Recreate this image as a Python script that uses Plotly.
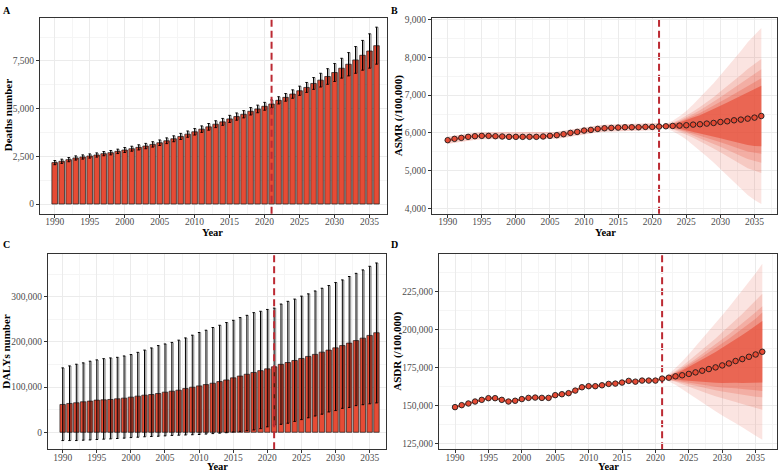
import plotly.graph_objects as go

W, H = 781, 471

years = list(range(1990, 2037))
fyears = list(range(2021, 2037))

# Panel A: deaths number (mean and symmetric uncertainty half-width)
deaths = [2170, 2240, 2326, 2413, 2465, 2517, 2569, 2639, 2691, 2760,
          2830, 2899, 2969, 3038, 3125, 3212, 3316, 3420, 3541, 3663,
          3785, 3924, 4045, 4184, 4306, 4462, 4583, 4705, 4861, 4983,
          5122, 5243, 5434, 5590, 5764, 5937, 6111, 6319, 6493, 6684,
          6892, 7118, 7326, 7552, 7795, 8021, 8299]
deaths_err = [110, 110, 110, 110, 110, 110, 110, 110, 115, 115,
              130, 130, 135, 140, 140, 145, 150, 155, 160, 165,
              170, 170, 175, 180, 180, 185, 190, 190, 195, 200,
              205, 210, 190, 200, 220, 240, 260, 310, 360, 410,
              470, 520, 610, 700, 780, 900, 970]

# Panel B: ASMR
asmr = [5807, 5842, 5868, 5895, 5912, 5921, 5921, 5912, 5904, 5895,
        5895, 5895, 5895, 5895, 5904, 5921, 5939, 5965, 6000, 6026,
        6061, 6079, 6105, 6123, 6132, 6140, 6149, 6149, 6149, 6158,
        6158, 6167, 6175, 6184, 6193, 6202, 6219, 6228, 6246, 6263,
        6289, 6307, 6333, 6351, 6377, 6404, 6447]
asmr_band_1 = [0, 60, 140, 250, 380, 530, 700, 870, 1050, 1240, 1430, 1620, 1820, 2020, 2180, 2330]
asmr_band_2 = [0, 40, 90, 160, 250, 345, 455, 565, 680, 805, 930, 1055, 1185, 1315, 1415, 1510]
asmr_band_3 = [0, 30, 75, 130, 200, 280, 370, 460, 555, 655, 760, 860, 965, 1070, 1155, 1240]
asmr_band_4 = [0, 25, 60, 110, 165, 230, 300, 375, 450, 535, 615, 695, 785, 870, 935, 1000]
asmr_band_5 = [0, 20, 50, 85, 130, 185, 240, 300, 360, 430, 495, 560, 630, 695, 750, 800]

# Panel C: DALYs number
dalys = [61600, 63800, 65300, 67500, 69000, 71200, 71900, 72600, 74100, 75600,
         77800, 80000, 82200, 83600, 85800, 88800, 91000, 93200, 96800, 99800,
         102700, 105600, 108600, 112300, 115900, 120500, 124500, 128500, 132500, 136500,
         140500, 145000, 150500, 154500, 159000, 163500, 168000, 172500, 177500, 182000,
         187000, 192000, 197500, 203000, 208500, 214500, 220500]
dalys_upper = [142600, 147000, 150700, 153700, 157400, 160300, 163000, 164700, 166000, 169000,
               172000, 177000, 182000, 186800, 192000, 195600, 199000, 204000, 209000, 215000,
               221000, 226000, 232000, 237000, 243000, 248000, 254000, 259000, 265000, 268000,
               272000, 275000, 284000, 290000, 295000, 301500, 306600, 313000, 319000, 325000,
               331600, 337500, 345000, 352000, 359600, 367600, 375000]
dalys_lower = [-18400, -18400, -18400, -17600, -17000, -16000, -15300, -14700, -13800, -13000,
               -11800, -11000, -10000, -9400, -8800, -8000, -7000, -6500, -6000, -5500,
               -5000, -4000, -3000, -2000, -1000, 500, 2000, 3500, 5000, 8000,
               12000, 16000, 17600, 20000, 24000, 28000, 32000, 36000, 40000, 45000,
               48000, 53000, 55000, 59000, 61000, 63000, 65000]

# Panel D: ASDR
asdr = [149000, 150300, 151400, 152700, 153800, 154900, 154900, 153800, 152700, 153200,
        154300, 155100, 155300, 155100, 155100, 156900, 157500, 158200, 159900, 162100,
        162800, 162800, 163400, 164300, 164500, 165200, 166300, 165800, 166500, 166500,
        166500, 167800, 168400, 169300, 170000, 170900, 171900, 173000, 174100, 175200,
        176500, 177800, 179400, 180700, 182200, 183700, 185500]
asdr_band_1 = [0, 2500, 5500, 9000, 13000, 17000, 21000, 25000, 29000, 33000, 37000, 41000, 45000, 49500, 53500, 58000]
asdr_band_2 = [0, 1600, 3600, 5900, 8600, 11200, 13900, 16500, 19100, 21800, 24400, 27100, 29700, 32700, 35300, 38200]
asdr_band_3 = [0, 1300, 2900, 4700, 6800, 8800, 10900, 13000, 15100, 17200, 19200, 21300, 23400, 25700, 27800, 30000]
asdr_band_4 = [0, 1100, 2400, 4000, 5700, 7500, 9200, 11000, 12800, 14500, 16300, 18000, 19800, 21800, 23500, 25900]
asdr_band_5 = [0, 900, 1900, 3200, 4600, 6000, 7400, 8800, 10200, 11600, 13000, 14400, 15800, 17300, 18700, 20300]

x_ticks = list(range(1990, 2036, 5))
split_year = 2021

RED = '#E64B35'
FONT = 'Liberation Serif'
band_alphas = [0.15, 0.18, 0.21, 0.27, 0.62]

fig = go.Figure()


def add_bars(xa, ya, mean, lo, hi):
    fig.add_trace(go.Bar(
        x=years, y=mean, width=0.8, xaxis=xa, yaxis=ya,
        marker=dict(color=RED, line=dict(color='#1a1a1a', width=0.7)),
        error_y=dict(type='data', symmetric=False,
                     array=[h - m for h, m in zip(hi, mean)],
                     arrayminus=[m - l for m, l in zip(mean, lo)],
                     color='black', thickness=1, width=1.2),
        showlegend=False, hoverinfo='skip'))
    sx, sy = [], []
    for yr, l, h in zip(years, lo, hi):
        sx += [yr + 0.2, yr + 0.2, None]
        sy += [l, h, None]
    fig.add_trace(go.Scatter(x=sx, y=sy, mode='lines', xaxis=xa, yaxis=ya,
                             line=dict(color='rgba(0,0,0,0.38)', width=1.5),
                             showlegend=False, hoverinfo='skip'))


def add_fan(xa, ya, mean, bands, hist_band):
    fmean = mean[years.index(split_year):]
    for b, a in zip(bands, band_alphas):
        up = [m + d for m, d in zip(fmean, b)]
        dn = [m - d for m, d in zip(fmean, b)]
        fig.add_trace(go.Scatter(
            x=fyears + fyears[::-1], y=up + dn[::-1], fill='toself',
            fillcolor=f'rgba(230,75,53,{a})', line=dict(width=0),
            mode='lines', xaxis=xa, yaxis=ya, showlegend=False, hoverinfo='skip'))
    hy = years[:years.index(split_year) + 1]
    hm = mean[:years.index(split_year) + 1]
    if hist_band:
        fig.add_trace(go.Scatter(x=hy, y=hm, mode='lines', xaxis=xa, yaxis=ya,
                                 line=dict(color='rgba(230,75,53,0.28)', width=7),
                                 showlegend=False, hoverinfo='skip'))
    fig.add_trace(go.Scatter(x=years, y=mean, mode='lines', xaxis=xa, yaxis=ya,
                             line=dict(color=RED, width=2),
                             showlegend=False, hoverinfo='skip'))
    fig.add_trace(go.Scatter(x=years, y=mean, mode='markers', xaxis=xa, yaxis=ya,
                             marker=dict(size=5.5, color=RED, line=dict(color='#1a1a1a', width=0.9)),
                             showlegend=False, hoverinfo='skip'))


add_bars('x', 'y', deaths,
         [m - e for m, e in zip(deaths, deaths_err)],
         [m + e for m, e in zip(deaths, deaths_err)])
add_fan('x2', 'y2', asmr, [asmr_band_1, asmr_band_2, asmr_band_3, asmr_band_4, asmr_band_5], True)
add_bars('x3', 'y3', dalys, dalys_lower, dalys_upper)
add_fan('x4', 'y4', asdr, [asdr_band_1, asdr_band_2, asdr_band_3, asdr_band_4, asdr_band_5], False)


def dx(l, r):
    return [l / W, r / W]


def dy(t, b):
    return [1 - b / H, 1 - t / H]


def axis_common():
    return dict(showline=True, mirror=True, linecolor='#333333', linewidth=1,
                ticks='outside', ticklen=3, tickcolor='#333333', tickwidth=1,
                showgrid=True, gridcolor='#EBEBEB', gridwidth=1, zeroline=False,
                tickfont=dict(family=FONT, size=9.5, color='#4D4D4D'))


def xaxis(dom, rng, anchor):
    d = axis_common()
    d.update(domain=dom, range=rng, anchor=anchor, tickvals=x_ticks, ticklabelstandoff=-4,
             minor=dict(tick0=1990, dtick=2.5, showgrid=True, gridcolor='#F5F5F5', gridwidth=0.6, ticks=''))
    return d


def yaxis(dom, rng, anchor, tv, mdt, m0):
    d = axis_common()
    d.update(domain=dom, range=rng, anchor=anchor, tickvals=tv, tickformat=',',
             minor=dict(tick0=m0, dtick=mdt, showgrid=True, gridcolor='#F5F5F5', gridwidth=0.6, ticks=''))
    return d


fig.update_layout(
    width=W, height=H, autosize=False,
    margin=dict(l=0, r=0, t=0, b=0),
    paper_bgcolor='white', plot_bgcolor='white',
    showlegend=False, barmode='overlay',
    xaxis=xaxis(dx(40, 387), [1987.9, 2037.5], 'y'),
    yaxis=yaxis(dy(15, 212), [-505, 9755], 'x', [0, 2500, 5000, 7500], 1250, 0),
    xaxis2=xaxis(dx(432, 777), [1987.7, 2038.3], 'y2'),
    yaxis2=yaxis(dy(15, 212), [3861, 9045], 'x2', [4000, 5000, 6000, 7000, 8000, 9000], 500, 4000),
    xaxis3=xaxis(dx(48, 386), [1987.85, 2037.4], 'y3'),
    yaxis3=yaxis(dy(253, 449), [-37400, 394000], 'x3', [0, 100000, 200000, 300000], 50000, 0),
    xaxis4=xaxis(dx(439, 777), [1987.6, 2038.2], 'y4'),
    yaxis4=yaxis(dy(253, 449), [121300, 249700], 'x4', [125000, 150000, 175000, 200000, 225000], 12500, 125000),
)

shapes = []
for xa, ya, layer in [('x', 'y', 'above'), ('x2', 'y2', 'below'), ('x3', 'y3', 'above'), ('x4', 'y4', 'below')]:
    shapes.append(dict(type='line', xref=xa, yref=f'{ya} domain', x0=split_year, x1=split_year,
                       y0=0, y1=1, layer=layer,
                       line=dict(color='#BC2A33', width=2, dash='7px,4px')))
fig.update_layout(shapes=shapes)

ann = []


def add_text(px, py, text, size, angle=0):
    ann.append(dict(x=px / W, y=1 - py / H, xref='paper', yref='paper', text=text,
                    showarrow=False, textangle=angle, xanchor='center', yanchor='middle',
                    font=dict(family=FONT, size=size, color='black')))


add_text(7, 8, '<b>A</b>', 10)
add_text(395, 8, '<b>B</b>', 10)
add_text(6, 243, '<b>C</b>', 10)
add_text(395, 243, '<b>D</b>', 10)
add_text(213, 231, '<b>Year</b>', 10.5)
add_text(605, 231, '<b>Year</b>', 10.5)
add_text(217, 466, '<b>Year</b>', 10.5)
add_text(608, 466, '<b>Year</b>', 10.5)
add_text(8, 113, '<b>Deaths number</b>', 11, -90)
add_text(398, 113, '<b>ASMR (/100,000)</b>', 11, -90)
add_text(6, 351, '<b>DALYs number</b>', 11, -90)
add_text(398, 351, '<b>ASDR (/100,000)</b>', 11, -90)
fig.update_layout(annotations=ann)

fig.write_html('out.html')
